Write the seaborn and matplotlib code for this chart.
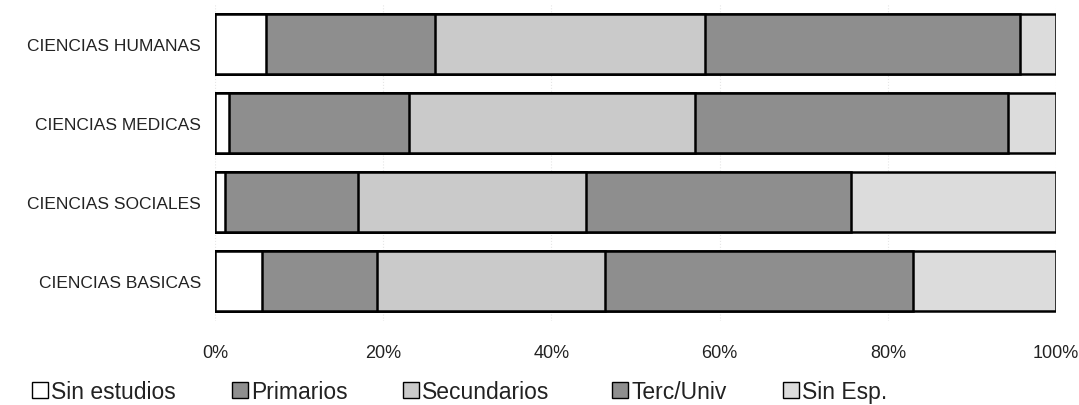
import matplotlib
matplotlib.use("Agg")
import matplotlib.pyplot as plt
import pandas as pd
import seaborn as sns
from matplotlib.patches import Patch
from matplotlib.ticker import PercentFormatter

# Datos (porcentajes)
categorias = ['CIENCIAS HUMANAS', 'CIENCIAS MEDICAS', 'CIENCIAS SOCIALES', 'CIENCIAS BASICAS']
sin_estudios = [6.0, 1.7, 1.2, 5.6]
primarios = [20.2, 21.4, 15.8, 13.7]
secundarios = [32.1, 34.0, 27.1, 27.1]
terc_univ = [37.4, 37.2, 31.5, 36.6]
sin_esp = [4.3, 5.7, 24.4, 17.0]

series = ['Sin estudios', 'Primarios', 'Secundarios', 'Terc/Univ', 'Sin Esp.']
colores = ['#ffffff', '#8e8e8e', '#cacaca', '#8e8e8e', '#dcdcdc']

df = pd.DataFrame({
    'categoria': categorias,
    'Sin estudios': sin_estudios,
    'Primarios': primarios,
    'Secundarios': secundarios,
    'Terc/Univ': terc_univ,
    'Sin Esp.': sin_esp,
})
acum = df[series].cumsum(axis=1)
acum['categoria'] = df['categoria']

sns.set_style('white')
plt.rcParams['font.family'] = ['Liberation Sans', 'DejaVu Sans']

fig = plt.figure(figsize=(10.79, 4.06), dpi=100)
ax = fig.add_axes([0.1993, 0.2081, 0.7794, 0.7784])

# Barras apiladas: dibujar de la mayor acumulada a la menor
for serie, color in zip(reversed(series), reversed(colores)):
    sns.barplot(data=acum, x=serie, y='categoria', orient='h', color=color,
                edgecolor='black', linewidth=1.8, width=0.76, ax=ax, zorder=3)

ax.set_xlim(0, 100)
ax.set_ylim(3.5, -0.5)
ax.xaxis.set_major_formatter(PercentFormatter(decimals=0))
ax.set_xticks([0, 20, 40, 60, 80, 100])
ax.grid(axis='x', color='#e6e6e6', linestyle=':', linewidth=0.8, zorder=0)
ax.set_xlabel('')
ax.set_ylabel('')
for s in ax.spines.values():
    s.set_visible(False)
ax.tick_params(axis='x', labelsize=13, pad=17, length=0, colors='#222222')
ax.tick_params(axis='y', labelsize=12.5, pad=10, length=0, colors='#222222')

# Leyenda: una entrada por posicion, como en el original
pos_x = [32, 232, 403, 612, 783]
for s, c, px in zip(series, colores, pos_x):
    h = Patch(facecolor=c, edgecolor='black', linewidth=1.0, label=s)
    fig.legend(handles=[h], loc='lower left', bbox_to_anchor=(px / 1079, 0.004),
               borderpad=0, borderaxespad=0, frameon=False, fontsize=16.5,
               handlelength=0.7, handleheight=0.7, handletextpad=0.15,
               labelcolor='#222222')

fig.savefig('out.png', dpi=100)
